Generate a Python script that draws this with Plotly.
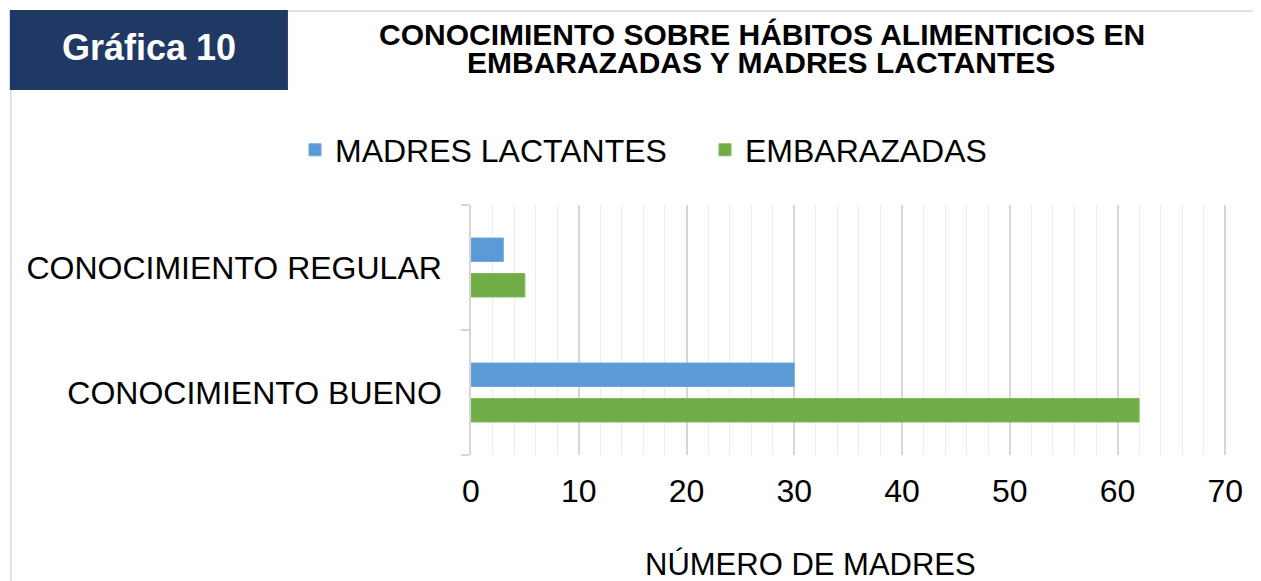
import plotly.graph_objects as go

# ---- data ----
categories = ["CONOCIMIENTO BUENO", "CONOCIMIENTO REGULAR"]
series_names = ["EMBARAZADAS", "MADRES LACTANTES"]
embarazadas = [62, 5]
lactantes = [30, 3]
x_ticks = [0, 10, 20, 30, 40, 50, 60, 70]

title_line1 = "CONOCIMIENTO SOBRE HÁBITOS ALIMENTICIOS EN"
title_line2 = "EMBARAZADAS Y MADRES LACTANTES"
badge_text = "Gráfica 10"
x_title = "NÚMERO DE MADRES"

# ---- layout geometry (pixels in the 1261x581 window) ----
OFF = 8                      # default page body margin
W, H = 1261 - OFF, 581 - OFF  # figure size
X_MAX = 70.25                # small headroom so the 70 gridline is drawn
PL, PT, PB = 471, 205, 455
PR = PL + (1225 - 471) * X_MAX / 70.0
L, T, B = PL - OFF, PT - OFF, H - (PB - OFF)
R = W - (PR - OFF)
PW, PH = W - L - R, H - T - B


def px(x):
    return (x - OFF - L) / PW


def py(y):
    return (H - B - (y - OFF)) / PH


def cx(x):
    return (x - OFF) / W


def cy(y):
    return 1 - (y - OFF) / H


FONT = "Liberation Sans, Arial, sans-serif"

fig = go.Figure()
fig.add_trace(go.Bar(
    y=categories, x=embarazadas, name=series_names[0], orientation="h",
    marker=dict(color="#70AD47", line=dict(width=1, color="#7fba5a")),
    legend="legend2",
))
fig.add_trace(go.Bar(
    y=categories, x=lactantes, name=series_names[1], orientation="h",
    marker=dict(color="#5B9BD5", line=dict(width=1, color="#6fa8dc")),
    legend="legend",
))

legend_common = dict(
    orientation="h", xref="container", yref="container",
    xanchor="left", yanchor="middle",
    font=dict(size=32, family=FONT, color="black"),
    bgcolor="rgba(0,0,0,0)", borderwidth=0,
)

fig.update_layout(
    width=W, height=H, autosize=False,
    margin=dict(l=L, r=R, t=T, b=B, pad=0),
    paper_bgcolor="white", plot_bgcolor="white",
    barmode="group", bargap=0.432, bargroupgap=0.338,
    font=dict(family=FONT, size=31, color="black"),
    showlegend=True,
    legend=dict(legend_common, x=cx(295), y=cy(150)),
    legend2=dict(legend_common, x=cx(705), y=cy(150)),
    xaxis=dict(
        range=[0, X_MAX], tickvals=x_ticks, ticks="",
        showgrid=True, gridcolor="#d6d6d6", gridwidth=1.5,
        minor=dict(dtick=2, showgrid=True, gridcolor="#ececec", gridwidth=1),
        zeroline=False, showline=False,
        tickfont=dict(size=32, family=FONT, color="black"),
        ticklabelstandoff=14, automargin=False,
        fixedrange=True,
    ),
    yaxis=dict(
        type="category", categoryorder="array", categoryarray=categories,
        showline=True, linecolor="#d6d6d6", linewidth=1.5,
        ticks="outside", ticklen=8, tickcolor="#d6d6d6", tickwidth=1.5,
        tickson="boundaries", showgrid=False, zeroline=False,
        tickfont=dict(size=32, family=FONT, color="black"),
        ticklabelstandoff=21, automargin=False,
        fixedrange=True,
    ),
)

shapes = [
    # light frame lines
    dict(type="line", xref="paper", yref="paper",
         x0=px(288), x1=px(1261), y0=py(11), y1=py(11),
         line=dict(color="#d9e2f3", width=2)),
    dict(type="line", xref="paper", yref="paper",
         x0=px(11), x1=px(11), y0=py(90), y1=py(581),
         line=dict(color="#d9e2f3", width=2)),
    # header badge
    dict(type="rect", xref="paper", yref="paper",
         x0=px(10), x1=px(288), y0=py(90), y1=py(10),
         fillcolor="#203864", line=dict(width=0), layer="above"),
]
fig.update_layout(shapes=shapes)

annotations = [
    dict(text="<b>" + badge_text + "</b>", xref="paper", yref="paper",
         x=px(149), y=py(47), xanchor="center", yanchor="middle",
         showarrow=False, font=dict(family=FONT, size=36, color="white")),
    dict(text="<b>" + title_line1 + "</b>", xref="paper", yref="paper",
         x=px(762), y=py(34), xanchor="center", yanchor="middle",
         showarrow=False, font=dict(family=FONT, size=30, color="black")),
    dict(text="<b>" + title_line2 + "</b>", xref="paper", yref="paper",
         x=px(761), y=py(63), xanchor="center", yanchor="middle",
         showarrow=False, font=dict(family=FONT, size=30, color="black")),
    dict(text=x_title, xref="paper", yref="paper",
         x=px(810), y=py(564), xanchor="center", yanchor="middle",
         showarrow=False, font=dict(family=FONT, size=31, color="black")),
]
fig.update_layout(annotations=annotations)

fig.write_html("out.html")
